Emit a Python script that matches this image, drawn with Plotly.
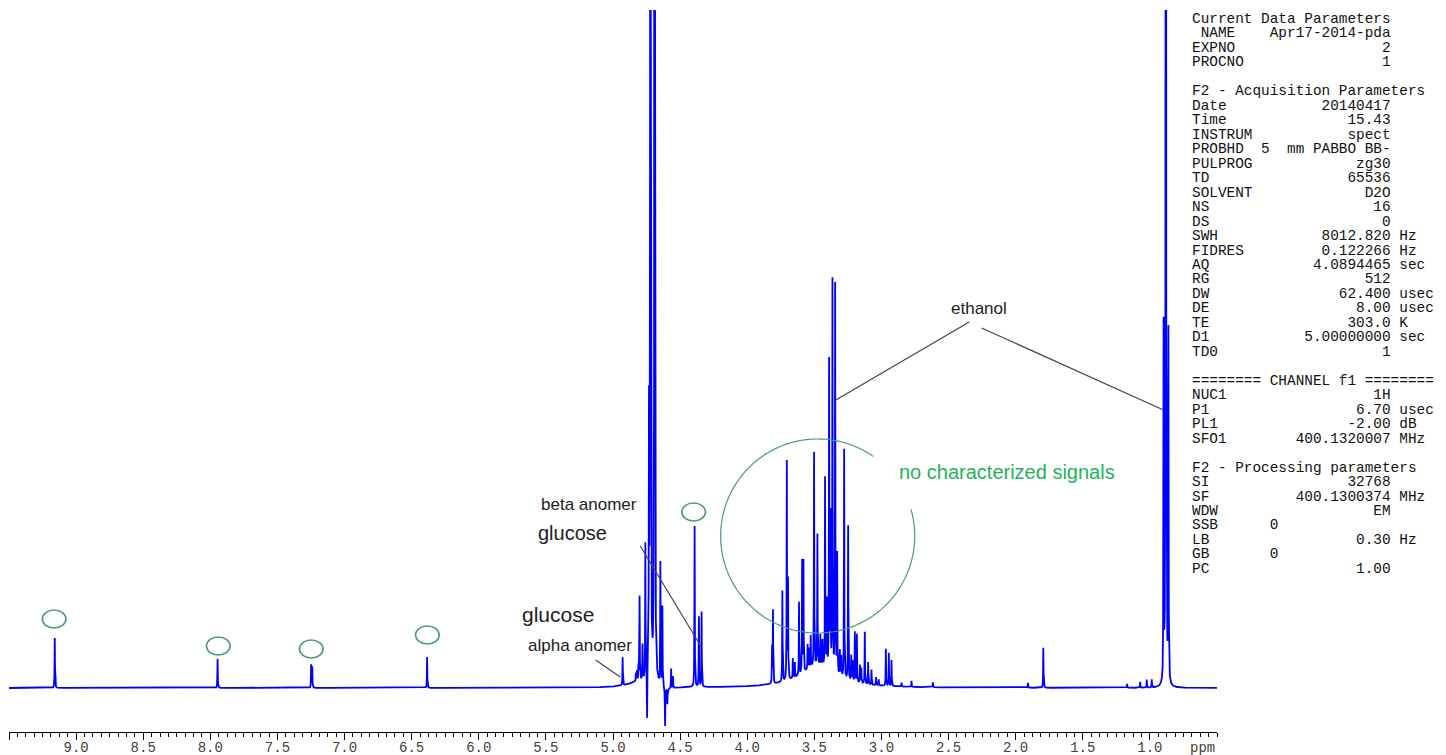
import numpy as np
import plotly.graph_objects as go

# ---------------------------------------------------------------------------
# 1H NMR (400 MHz, D2O) peak table: chemical shift (ppm) and intensity (a.u.)
# ---------------------------------------------------------------------------
aromatic_ppm = [9.159, 7.946, 7.249, 7.241, 6.385]
aromatic_int = [50, 29, 23, 21, 31]

anomeric_ppm = [4.928, 4.392, 4.360, 4.340]
anomeric_int = [28, 161, 70, 75]

water_ppm = [4.830, 4.822, 4.810, 4.802, 4.780, 4.759, 4.746, 4.732, 4.721,
             4.690, 4.647, 4.632, 4.612, 4.595, 4.567, 4.553]
water_int = [8, 10, 18, 84, 35, 135, -50, 250, 2500,
             2500, 122, 80, -38, -15, 20, 12]

sugar_ppm = [3.815, 3.808, 3.738, 3.705, 3.696, 3.660, 3.645, 3.614, 3.591,
             3.581, 3.550, 3.540, 3.527, 3.502, 3.477, 3.455, 3.440, 3.420,
             3.407, 3.390, 3.380, 3.365, 3.345, 3.330, 3.310, 3.300, 3.278,
             3.248, 3.225, 3.215, 3.198, 3.183, 3.160, 3.150, 3.124, 3.099,
             3.074, 3.040, 3.020, 2.967, 2.945, 2.925]
sugar_int = [36, 73, 91, 218, 98, 20, 15, 73, 112,
             111, 25, 20, 32, 214, 131, 30, 25, 189,
             66, 307, 151, 390, 388, 119, 25, 20, 229,
             154, 25, 20, 50, 48, 18, 15, 52, 22,
             15, 8, 6, 37, 33, 26]

minor_ppm = [2.850, 2.776, 2.617, 1.908, 1.794, 1.170, 1.073, 1.023, 0.986]
minor_int = [4, 6, 5, 5, 40, 4, 6, 8, 8]

ethanol_ppm = [0.898, 0.881, 0.862]
ethanol_int = [355, 2000, 350]

# broad underlying envelopes (centre, intensity, full width at half height)
broad_ppm = [3.47, 4.80, 4.60]
broad_int = [22, 6, -4]
broad_fwhm = [0.32, 0.20, 0.10]

line_fwhm = 0.003  # natural line width of the sharp resonances, ppm

# ---------------------------------------------------------------------------
# axis ticks / labels
# ---------------------------------------------------------------------------
major_ticks = [9.5, 9.0, 8.5, 8.0, 7.5, 7.0, 6.5, 6.0, 5.5, 5.0, 4.5, 4.0,
               3.5, 3.0, 2.5, 2.0, 1.5, 1.0, 0.5]
tick_labels = ["", "9.0", "8.5", "8.0", "7.5", "7.0", "6.5", "6.0", "5.5",
               "5.0", "4.5", "4.0", "3.5", "3.0", "2.5", "2.0", "1.5", "1.0", ""]

# ---------------------------------------------------------------------------
# build the spectrum (Lorentzian lines on a fine chemical-shift grid)
# ---------------------------------------------------------------------------
sharp_ppm = aromatic_ppm + anomeric_ppm + water_ppm + sugar_ppm + minor_ppm + ethanol_ppm
sharp_int = aromatic_int + anomeric_int + water_int + sugar_int + minor_int + ethanol_int

grid = np.union1d(np.linspace(0.5, 9.5, 36001), np.array(sharp_ppm))[::-1]
spec = np.zeros_like(grid)
for p, h in zip(sharp_ppm, sharp_int):
    spec += h / (1.0 + ((grid - p) / (line_fwhm / 2)) ** 2)
for p, h, w in zip(broad_ppm, broad_int, broad_fwhm):
    spec += h / (1.0 + ((grid - p) / (w / 2)) ** 2)

fig = go.Figure()
fig.add_trace(go.Scatter(x=grid, y=spec, mode="lines",
                         line=dict(color="#0000ff", width=1.8),
                         hoverinfo="skip"))

# ---------------------------------------------------------------------------
# layout
# ---------------------------------------------------------------------------
W, H = 1446, 755
ML, MR, MT, MB = 9, 229, 10, 23
PW, PH = W - ML - MR, H - MT - MB

fig.update_layout(
    width=W, height=H,
    margin=dict(l=ML, r=MR, t=MT, b=MB, pad=0, autoexpand=False),
    paper_bgcolor="white", plot_bgcolor="white",
    showlegend=False,
    xaxis=dict(range=[9.5, 0.5], tickmode="array", tickvals=major_ticks,
               ticktext=tick_labels, ticks="outside", ticklen=7, tickwidth=1,
               tickcolor="#000", showline=True, linecolor="#000", linewidth=1,
               showgrid=False, zeroline=False, automargin=False,
               ticklabelstandoff=-5,
               tickfont=dict(family="Liberation Mono", size=14, color="#4a4038"),
               minor=dict(tickvals=list(np.arange(0.5, 9.5, 0.0625)),
                          ticks="outside", ticklen=4, tickcolor="#000",
                          showgrid=False)),
    yaxis=dict(range=[-44, 678], visible=False, fixedrange=True,
               automargin=False),
)


def px(x):
    return (x - ML) / PW


def py(y):
    return (H - MB - y) / PH


# "ppm" axis unit at the right end of the scale
fig.add_annotation(text="ppm", xref="paper", yref="paper", x=1.0, y=py(748),
                   xanchor="right", yanchor="middle", showarrow=False,
                   font=dict(family="Liberation Mono", size=14, color="#4a4038"))

# ---------------------------------------------------------------------------
# assignments
# ---------------------------------------------------------------------------
label_font = "Liberation Sans"
ink = "#222222"
lead = "#444444"
green_txt = "#22b35a"
green_ring = "#4a9c70"

labels = [
    ("ethanol", 2.271, 380, 17, ink),
    ("no characterized signals", 2.065, 216, 20, green_txt),
    ("beta anomer", 5.182, 184, 17, ink),
    ("glucose", 5.301, 155, 20, ink),
    ("glucose", 5.413, 74, 21, ink),
    ("alpha anomer", 5.249, 43, 17, ink),
]
for txt, xx, yy, sz, col in labels:
    fig.add_annotation(text=txt, x=xx, y=yy, xref="x", yref="y",
                       showarrow=False, xanchor="center", yanchor="middle",
                       font=dict(family=label_font, size=sz, color=col))

leader_lines = [
    (2.346, 366, 3.340, 288),
    (2.254, 360, 0.899, 278),
    (5.130, 28, 4.946, 11),
    (4.797, 142, 4.342, 41),
]
for x0, y0, x1, y1 in leader_lines:
    fig.add_shape(type="line", x0=x0, y0=y0, x1=x1, y1=y1, xref="x", yref="y",
                  line=dict(color=lead, width=1.2))

# small rings marking unassigned resonances
rings = [(9.164, 69), (7.941, 42), (7.248, 39), (6.383, 53), (4.399, 176)]
for cx, cy in rings:
    fig.add_shape(type="circle", xref="x", yref="y",
                  x0=cx - 0.088, x1=cx + 0.088, y0=cy - 9, y1=cy + 9,
                  line=dict(color=green_ring, width=1.6))

# open ring around the sugar region
cx, cy, rx, ry = 3.475, 152, 0.723, 97
t = np.radians(np.linspace(55, 376, 240))
pts = [(cx - rx * np.cos(a), cy + ry * np.sin(a)) for a in t]
path = "M " + " L ".join(f"{a:.4f},{b:.2f}" for a, b in pts)
fig.add_shape(type="path", path=path, xref="x", yref="y",
              line=dict(color=green_ring, width=1.2))

# ---------------------------------------------------------------------------
# acquisition / processing parameter panel
# ---------------------------------------------------------------------------
COL = 23  # values right-aligned on this column


def row(name, value="", unit=""):
    s = name + " " * max(1, COL - len(name) - len(value)) + value
    if unit:
        s += " " + unit
    return s


panel = [
    "Current Data Parameters",
    row(" NAME", "Apr17-2014-pda"),
    row("EXPNO", "2"),
    row("PROCNO", "1"),
    "",
    "F2 - Acquisition Parameters",
    row("Date", "20140417"),
    row("Time", "15.43"),
    row("INSTRUM", "spect"),
    "PROBHD  5  mm PABBO BB-",
    row("PULPROG", "zg30"),
    row("TD", "65536"),
    row("SOLVENT", "D2O"),
    row("NS", "16"),
    row("DS", "0"),
    row("SWH", "8012.820", "Hz"),
    row("FIDRES", "0.122266", "Hz"),
    row("AQ", "4.0894465", "sec"),
    row("RG", "512"),
    row("DW", "62.400", "usec"),
    row("DE", "8.00", "usec"),
    row("TE", "303.0", "K"),
    row("D1", "5.00000000", "sec"),
    row("TD0", "1"),
    "",
    "======== CHANNEL f1 ========",
    row("NUC1", "1H"),
    row("P1", "6.70", "usec"),
    row("PL1", "-2.00", "dB"),
    row("SFO1", "400.1320007", "MHz"),
    "",
    "F2 - Processing parameters",
    row("SI", "32768"),
    row("SF", "400.1300374", "MHz"),
    row("WDW", "EM"),
    "SSB      0",
    row("LB", "0.30", "Hz"),
    "GB       0",
    row("PC", "1.00"),
]

for i, line in enumerate(panel):
    if not line:
        continue
    fig.add_annotation(text=line.replace(" ", "\u00a0"), xref="paper", yref="paper",
                       x=px(1190), y=py(19 + 14.47 * i), xanchor="left",
                       yanchor="middle", showarrow=False,
                       font=dict(family="Liberation Mono", size=14.4, color="#111"))

fig.write_html("out.html")
